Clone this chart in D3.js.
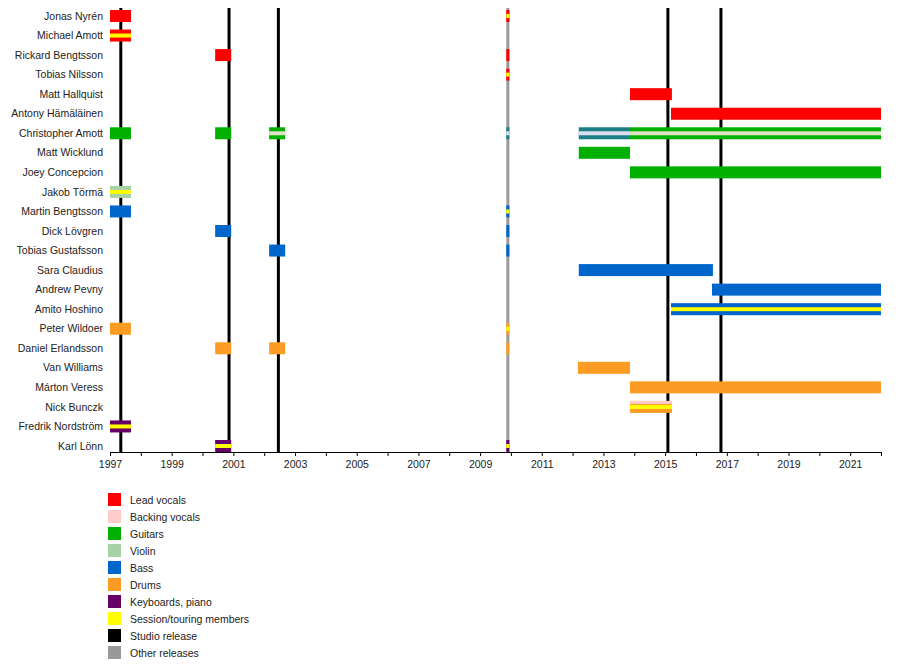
<!DOCTYPE html>
<html>
<head>
<meta charset="utf-8">
<script src="https://cdn.jsdelivr.net/npm/d3@7"></script>
<style>
  body { margin: 0; background: #fff; }
  text { font-family: "Liberation Sans", Arial, sans-serif; fill: #222; }
</style>
</head>
<body>
<svg id="chart" width="900" height="670"></svg>
<script>
// members, top to bottom
var members = ["Jonas Nyrén", "Michael Amott", "Rickard Bengtsson", "Tobias Nilsson", "Matt Hallquist",
  "Antony Hämäläinen", "Christopher Amott", "Matt Wicklund", "Joey Concepcion", "Jakob Törmä",
  "Martin Bengtsson", "Dick Lövgren", "Tobias Gustafsson", "Sara Claudius", "Andrew Pevny",
  "Amito Hoshino", "Peter Wildoer", "Daniel Erlandsson", "Van Williams", "Márton Veress",
  "Nick Bunczk", "Fredrik Nordström", "Karl Lönn"]

// legend
var roleKeys = ["vocals", "backing", "guitars", "violin", "bass", "drums", "keys", "session", "studio", "other"]
var roleLabels = ["Lead vocals", "Backing vocals", "Guitars", "Violin", "Bass", "Drums",
  "Keyboards, piano", "Session/touring members", "Studio release", "Other releases"]
var roleColors = ["#ff0000", "#ffcccc", "#00b000", "#a6d2a6", "#0066cc", "#fc9c24",
  "#660066", "#ffff00", "#000000", "#999999"]
// colours seen in the mixed guitar/violin bars
var extraKeys = ["violinStripe", "gtrBass", "gtrBassStripe"]
var extraColors = ["#dde3c2", "#1b7f86", "#dcdff0"]

// [member, role, start, end, stripe role]
var periods = [
  ["Jonas Nyrén", "vocals", 1997, 1997.68, null],
  ["Jonas Nyrén", "vocals", 2009.85, 2009.95, "session"],
  ["Michael Amott", "vocals", 1997, 1997.68, "session"],
  ["Rickard Bengtsson", "vocals", 2000.41, 2000.93, null],
  ["Rickard Bengtsson", "vocals", 2009.85, 2009.95, null],
  ["Tobias Nilsson", "vocals", 2009.85, 2009.95, "session"],
  ["Matt Hallquist", "vocals", 2013.86, 2015.22, null],
  ["Antony Hämäläinen", "vocals", 2015.19, 2022, null],
  ["Christopher Amott", "guitars", 1997, 1997.68, null],
  ["Christopher Amott", "guitars", 2000.41, 2000.93, null],
  ["Christopher Amott", "guitars", 2002.16, 2002.68, "violinStripe"],
  ["Christopher Amott", "gtrBass", 2009.85, 2009.95, "gtrBassStripe"],
  ["Christopher Amott", "gtrBass", 2012.2, 2013.86, "gtrBassStripe"],
  ["Christopher Amott", "guitars", 2013.86, 2022, "violinStripe"],
  ["Matt Wicklund", "guitars", 2012.2, 2013.86, null],
  ["Joey Concepcion", "guitars", 2013.86, 2022, null],
  ["Jakob Törmä", "violin", 1997, 1997.68, "session"],
  ["Martin Bengtsson", "bass", 1997, 1997.68, null],
  ["Martin Bengtsson", "bass", 2009.85, 2009.95, "session"],
  ["Dick Lövgren", "bass", 2000.41, 2000.93, null],
  ["Dick Lövgren", "bass", 2009.85, 2009.95, null],
  ["Tobias Gustafsson", "bass", 2002.16, 2002.68, null],
  ["Tobias Gustafsson", "bass", 2009.85, 2009.95, null],
  ["Sara Claudius", "bass", 2012.2, 2016.55, null],
  ["Andrew Pevny", "bass", 2016.52, 2022, null],
  ["Amito Hoshino", "bass", 2015.19, 2022, "session"],
  ["Peter Wildoer", "drums", 1997, 1997.68, null],
  ["Peter Wildoer", "drums", 2009.85, 2009.95, "session"],
  ["Daniel Erlandsson", "drums", 2000.41, 2000.93, null],
  ["Daniel Erlandsson", "drums", 2002.16, 2002.68, null],
  ["Daniel Erlandsson", "drums", 2009.85, 2009.95, null],
  ["Van Williams", "drums", 2012.17, 2013.86, null],
  ["Márton Veress", "drums", 2013.86, 2022, null],
  ["Nick Bunczk", "drums", 2013.86, 2015.22, "session"],
  ["Fredrik Nordström", "keys", 1997, 1997.68, "session"],
  ["Karl Lönn", "keys", 2000.41, 2000.93, "session"],
  ["Karl Lönn", "keys", 2009.85, 2009.95, "session"]
]
// backing vocals band on top of a bar
var backingPeriods = [["Nick Bunczk", 2013.86, 2015.22]]

var studioReleases = [1997.35, 2000.86, 2002.46, 2015.09, 2016.81]
var otherReleases = [2009.9]
var yearTicks = [1997, 1998, 1999, 2000, 2001, 2002, 2003, 2004, 2005, 2006, 2007, 2008, 2009,
  2010, 2011, 2012, 2013, 2014, 2015, 2016, 2017, 2018, 2019, 2020, 2021, 2022]

var colorOf = d3.scaleOrdinal()
  .domain(roleKeys.concat(extraKeys))
  .range(roleColors.concat(extraColors))

var svg = d3.select("#chart")

var xScale = d3.scaleLinear().domain([1997, 2022]).range([110, 881])
var yScale = d3.scalePoint().domain(members).range([16, 446])
var barH = 12

// release lines
svg.selectAll("line.other")
  .data(otherReleases)
  .enter().append("line")
  .attr("x1", d => xScale(d)).attr("x2", d => xScale(d))
  .attr("y1", 8).attr("y2", 452)
  .attr("stroke", colorOf("other")).attr("stroke-width", 3)

svg.selectAll("line.studio")
  .data(studioReleases)
  .enter().append("line")
  .attr("x1", d => xScale(d)).attr("x2", d => xScale(d))
  .attr("y1", 8).attr("y2", 452)
  .attr("stroke", "#000").attr("stroke-width", 3)

// bars
svg.selectAll("rect.bar")
  .data(periods)
  .enter().append("rect")
  .attr("x", d => xScale(d[2]))
  .attr("width", d => xScale(d[3]) - xScale(d[2]))
  .attr("y", d => yScale(d[0]) - barH / 2)
  .attr("height", barH)
  .attr("fill", d => colorOf(d[1]))

svg.selectAll("rect.stripe")
  .data(periods.filter(d => d[4]))
  .enter().append("rect")
  .attr("x", d => xScale(d[2]))
  .attr("width", d => xScale(d[3]) - xScale(d[2]))
  .attr("y", d => yScale(d[0]) - 2)
  .attr("height", 4)
  .attr("fill", d => colorOf(d[4]))

svg.selectAll("rect.backing")
  .data(backingPeriods)
  .enter().append("rect")
  .attr("x", d => xScale(d[1]))
  .attr("width", d => xScale(d[2]) - xScale(d[1]))
  .attr("y", d => yScale(d[0]) - barH / 2)
  .attr("height", 3)
  .attr("fill", colorOf("backing"))

// names
svg.selectAll("text.name")
  .data(members)
  .enter().append("text")
  .attr("x", 103)
  .attr("y", d => yScale(d))
  .attr("dy", "0.35em")
  .attr("text-anchor", "end")
  .style("font-size", "10.5px")
  .text(d => d)

// x axis
var axis = svg.append("g")
  .attr("transform", "translate(0,452)")
  .call(d3.axisBottom(xScale)
    .tickValues(yearTicks)
    .tickSize(4)
    .tickSizeOuter(0)
    .tickFormat(d => (d % 2 == 1 && d < 2022) ? d : ""))
axis.select(".domain").attr("stroke", "#000")
axis.selectAll(".tick line").attr("stroke", "#000")
axis.selectAll("text")
  .style("font-size", "10.5px")
  .style("font-family", "'Liberation Sans', Arial, sans-serif")
  .attr("fill", "#222")
  .attr("dy", "0.9em")

// legend
var legend = svg.selectAll("g.legend")
  .data(roleLabels)
  .enter().append("g")
  .attr("transform", (d, i) => "translate(108," + (493 + i * 17) + ")")

legend.append("rect")
  .attr("width", 13).attr("height", 13)
  .attr("fill", (d, i) => roleColors[i])

legend.append("text")
  .attr("x", 22).attr("y", 7)
  .attr("dy", "0.35em")
  .style("font-size", "10.5px")
  .text(d => d)
</script>
</body>
</html>
